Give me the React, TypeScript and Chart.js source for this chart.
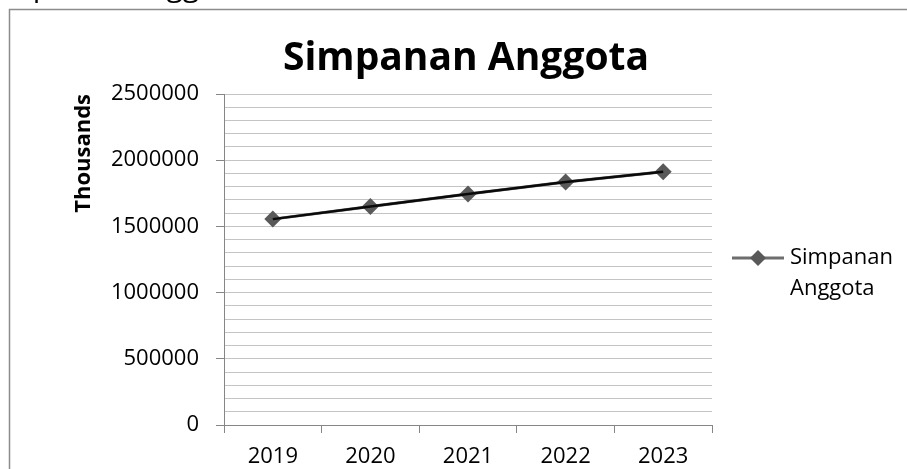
import React, { useEffect, useRef } from "react";
import { Chart, registerables } from "chart.js";

Chart.register(...registerables);

const years = ["2019", "2020", "2021", "2022", "2023"];
const simpananAnggota = [1555000, 1650000, 1744000, 1836000, 1912000];
const seriesName = "Simpanan Anggota";
const chartTitle = "Simpanan Anggota";
const unitLabel = "Thousands";
const yMax = 2500000;
const yMinorStep = 100000;
const yMajorStep = 500000;

const FONT = "'Open Sans', 'DejaVu Sans', sans-serif";
const AXIS_GRAY = "#868686";
const GRID_GRAY = "#c4c4c4";
const MARKER_GRAY = "#595959";

// Frame, cut-off caption above it, the chart title and the two-line legend on the right.
const decorations = {
  id: "decorations",
  beforeDraw(chart: Chart) {
    const ctx = chart.ctx;
    ctx.save();
    ctx.fillStyle = "#ffffff";
    ctx.fillRect(0, 0, chart.width, chart.height);
    ctx.fillStyle = "#000000";
    ctx.font = `30px ${FONT}`;
    ctx.textBaseline = "alphabetic";
    ctx.textAlign = "left";
    ctx.fillText(seriesName, -19, -4);
    ctx.strokeStyle = "#8c8c8c";
    ctx.lineWidth = 1.5;
    ctx.beginPath();
    ctx.moveTo(9.5, chart.height + 5);
    ctx.lineTo(9.5, 9.5);
    ctx.lineTo(chart.width + 5, 9.5);
    ctx.stroke();
    // title, centred over the plot area
    const area = chart.chartArea;
    ctx.font = `bold 39px ${FONT}`;
    ctx.textAlign = "center";
    ctx.fillText(chartTitle, (area.left + area.right) / 2 - 2, 70);
    ctx.restore();
  },
  afterDraw(chart: Chart) {
    const ctx = chart.ctx;
    const ds = chart.data.datasets[1] as any;
    ctx.save();
    const ly = 258;
    ctx.strokeStyle = ds.borderColor;
    ctx.lineWidth = 3;
    ctx.beginPath();
    ctx.moveTo(732, ly);
    ctx.lineTo(784, ly);
    ctx.stroke();
    ctx.fillStyle = ds.pointBackgroundColor;
    const r = 8;
    ctx.beginPath();
    ctx.moveTo(758, ly - r);
    ctx.lineTo(758 + r, ly);
    ctx.lineTo(758, ly + r);
    ctx.lineTo(758 - r, ly);
    ctx.closePath();
    ctx.fill();
    ctx.fillStyle = "#000000";
    ctx.font = `22px ${FONT}`;
    ctx.textBaseline = "middle";
    ctx.textAlign = "left";
    const parts = seriesName.split(" ");
    ctx.fillText(parts[0], 790, ly);
    ctx.fillText(parts[1], 790, ly + 31);
    ctx.restore();
  },
};

export default function App() {
  const canvasRef = useRef<HTMLCanvasElement | null>(null);

  useEffect(() => {
    if (!canvasRef.current) return;
    const chart = new Chart(canvasRef.current, {
      type: "line",
      data: {
        labels: years,
        datasets: [
          {
            label: seriesName + " (line)",
            data: simpananAnggota,
            borderColor: "#0a0a0a",
            borderWidth: 2.5,
            pointRadius: 0,
            fill: false,
            order: 0,
          },
          {
            label: seriesName,
            data: simpananAnggota,
            borderColor: "#6e6e6e",
            borderWidth: 3,
            pointStyle: "rectRot",
            pointRadius: 8.5,
            pointBackgroundColor: MARKER_GRAY,
            pointBorderColor: MARKER_GRAY,
            pointBorderWidth: 0,
            fill: false,
            order: 1,
          },
        ],
      },
      options: {
        animation: false,
        responsive: false,
        layout: { padding: { left: 0, right: 195, top: 94, bottom: 0 } },
        plugins: {
          legend: { display: false },
          tooltip: { enabled: false },
          title: { display: false },
        },
        scales: {
          x: {
            type: "category",
            offset: true,
            afterFit(scale: any) {
              scale.height = 44;
            },
            grid: {
              offset: true,
              drawOnChartArea: false,
              drawTicks: true,
              tickLength: 8,
              color: AXIS_GRAY,
            },
            border: { color: AXIS_GRAY, width: 1 },
            ticks: {
              color: "#000000",
              font: { family: FONT, size: 22 },
              padding: 11,
              maxRotation: 0,
            },
          },
          y: {
            min: 0,
            max: yMax,
            afterFit(scale: any) {
              scale.width = 224;
            },
            title: {
              display: true,
              text: unitLabel,
              align: "end",
              color: "#000000",
              font: { family: FONT, size: 22, weight: "bold" },
              padding: { top: 71, bottom: 0 },
            },
            grid: {
              color: GRID_GRAY,
              lineWidth: 1,
              drawTicks: true,
              tickLength: 8,
              tickColor: (c: any) =>
                c.tick && c.tick.value % yMajorStep === 0 ? AXIS_GRAY : "rgba(0,0,0,0)",
            },
            border: { color: AXIS_GRAY, width: 1 },
            ticks: {
              stepSize: yMinorStep,
              autoSkip: false,
              color: "#000000",
              font: { family: FONT, size: 22 },
              padding: 17,
              callback: (v: any) => (Number(v) % yMajorStep === 0 ? String(v) : ""),
            },
          },
        },
      },
      plugins: [decorations],
    });
    return () => chart.destroy();
  }, []);

  return (
    <div style={{ position: "fixed", left: 0, top: 0, width: 907, height: 469 }}>
      <canvas ref={canvasRef} width={907} height={469} style={{ display: "block" }} />
    </div>
  );
}
